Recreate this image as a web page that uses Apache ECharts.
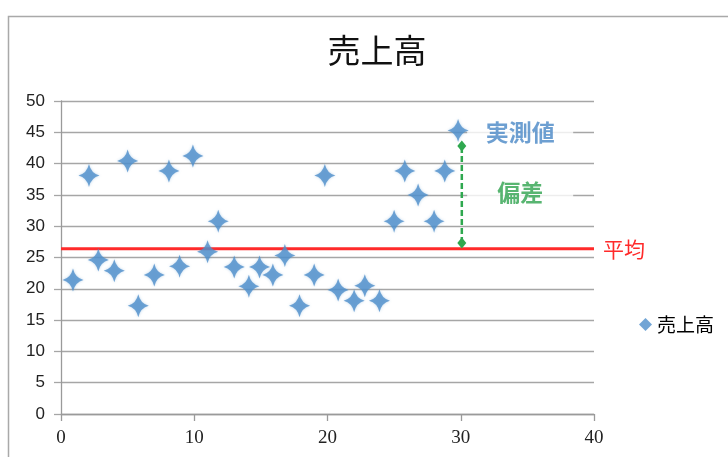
<!DOCTYPE html>
<html><head><meta charset="utf-8">
<script src="https://cdn.jsdelivr.net/npm/echarts@6/dist/echarts.min.js"></script>
<style>html,body{margin:0;padding:0;background:#fff}#c{width:728px;height:457px}</style>
</head><body><div id="c"></div>
<script>
// ---- data ----
var titleText = '売上高';
var seriesName = '売上高';
var xValues = [0.9, 2.1, 2.8, 4.0, 5.0, 5.8, 7.0, 8.1, 8.9, 9.9, 11.0, 11.8, 13.0, 14.1, 14.9, 15.9, 16.8, 17.9, 19.0, 19.8, 20.8, 22.0, 22.8, 23.9, 25.0, 25.8, 26.8, 28.0, 28.8, 29.8];
var yValues = [21.4, 38.1, 24.6, 22.9, 40.4, 17.3, 22.2, 38.8, 23.6, 41.2, 25.9, 30.8, 23.5, 20.4, 23.5, 22.2, 25.3, 17.3, 22.2, 38.1, 19.8, 18.1, 20.5, 18.1, 30.8, 38.8, 35.0, 30.8, 38.8, 45.3];
var meanValue = 26.4;
var meanLabel = '平均';
var deviationX = [30.08, 30.08];
var deviationY = [27.3, 42.8];
var annotationTexts = ['実測値', '偏差'];
var annotationX = [34.46, 34.46];
var annotationY = [45.0, 35.4];
var xTicks = [0, 40, 10];   // min, max, interval
var yTicks = [0, 50, 5];

// ---- build ----
var pts = xValues.map(function (x, i) { return [x, yValues[i]]; });
var devPts = deviationX.map(function (x, i) { return [x, deviationY[i]]; });
var annColors = ['#4887c6', '#2ea34e'];
var annPts = annotationTexts.map(function (t, i) {
  return { value: [annotationX[i], annotationY[i], t], label: { color: annColors[i] } };
});
var starPath = 'path://M0,-11 Q2,-2 10,0 Q2,2 0,11 Q-2,2 -10,0 Q-2,-2 0,-11Z';
var cjk = '"Noto Sans CJK JP", "Noto Sans", sans-serif';

var chart = echarts.init(document.getElementById('c'), null, { renderer: 'canvas' });
chart.setOption({
  animation: false,
  backgroundColor: '#fff',
  graphic: [{
    type: 'rect', left: 6, top: 14, silent: true,
    shape: { width: 760, height: 480 },
    style: { fill: 'none', stroke: '#a9a9a9', lineWidth: 1.5 }
  }],
  title: {
    text: titleText, left: 372, top: 29, textAlign: 'center',
    textStyle: { fontFamily: cjk, fontSize: 33, fontWeight: 'normal', color: '#111' }
  },
  legend: {
    data: [seriesName], left: 634, top: 310, orient: 'vertical',
    icon: 'diamond', itemWidth: 13, itemHeight: 13,
    textStyle: { fontFamily: cjk, fontSize: 19, color: '#000' }
  },
  grid: { left: 61, right: 134, top: 101, bottom: 43, containLabel: false },
  xAxis: {
    type: 'value', min: xTicks[0], max: xTicks[1], interval: xTicks[2],
    axisLine: { show: true, onZero: false, lineStyle: { color: '#9a9a9a', width: 1.3 } },
    axisTick: { show: true, length: 7, lineStyle: { color: '#9a9a9a', width: 1.3 } },
    splitLine: { show: false },
    axisLabel: { margin: 15, fontFamily: '"Liberation Serif", serif', fontSize: 19, color: '#222' }
  },
  yAxis: {
    type: 'value', min: yTicks[0], max: yTicks[1], interval: yTicks[2],
    axisLine: { show: true, lineStyle: { color: '#9a9a9a', width: 1.3 } },
    axisTick: { show: true, length: 7, lineStyle: { color: '#a6a6a6', width: 1.3 } },
    splitLine: { show: true, lineStyle: { color: '#a6a6a6', width: 1.3 } },
    axisLabel: { margin: 16, fontFamily: '"Liberation Sans", Arial, sans-serif', fontSize: 17, color: '#222' }
  },
  series: [
    {
      name: meanLabel, type: 'line', z: 2,
      data: [[xTicks[0], meanValue], [xTicks[1], meanValue]],
      showSymbol: false, symbol: 'none',
      lineStyle: { color: '#ff2a2a', width: 3 },
      endLabel: { show: true, formatter: meanLabel, distance: 9, color: '#ff2a2a', fontFamily: cjk, fontSize: 21 }
    },
    {
      name: 'dev', type: 'line', z: 3, data: devPts,
      symbol: 'diamond', symbolSize: [9, 11], showSymbol: true,
      itemStyle: { color: '#2fa84f' },
      lineStyle: { color: '#2fa84f', width: 2.5, type: [6, 3] }
    },
    {
      name: 'ann', type: 'scatter', z: 1, data: annPts, symbolSize: 0,
      label: {
        show: true, position: 'inside',
        formatter: function (p) { return p.value[2]; },
        fontFamily: cjk, fontSize: 23, fontWeight: 'bold',
        backgroundColor: '#fff', width: 106, height: 26, lineHeight: 26, align: 'center', verticalAlign: 'middle'
      }
    },
    {
      name: seriesName, type: 'scatter', z: 5, data: pts,
      symbol: starPath, symbolSize: [21, 23],
      itemStyle: { color: '#4f8fcb', shadowColor: 'rgba(79,143,203,0.45)', shadowBlur: 3 }
    }
  ]
});
</script></body></html>
